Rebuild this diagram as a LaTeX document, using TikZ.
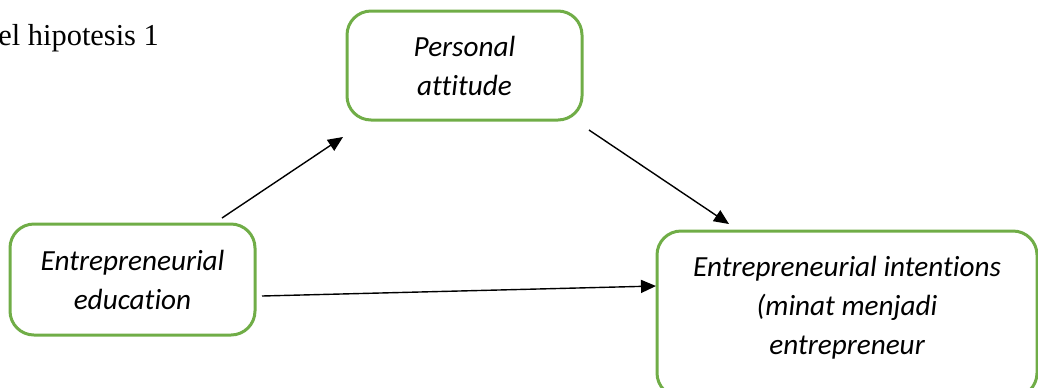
\documentclass[tikz,border=0pt]{standalone}
\usepackage{fontspec}
\setmainfont{Liberation Serif}
\newfontfamily\calibri[Ligatures=CommonOff]{Carlito}
\usetikzlibrary{arrows.meta, positioning}
\definecolor{boxgreen}{RGB}{112,173,71}
\tikzstyle{varbox} = [rectangle, rounded corners=12pt, draw=boxgreen, line width=1.5pt, align=center, font=\calibri\itshape\fontsize{14.6}{19.5}\selectfont]
\tikzstyle{arrow} = [line width=0.7pt, -{Triangle[length=7.5pt, width=6.5pt]}]

\begin{document}
\begin{tikzpicture}[x=0.5pt, y=-0.5pt]
\useasboundingbox (0,0) rectangle (1038,387);

% Title
\node (title) [anchor=base west, inner sep=0pt, font=\fontsize{15.2}{17}\selectfont] at (-2,45) {el hipotesis 1};

% Variables
\node (attitude) [varbox, minimum width=117.5pt, minimum height=54.5pt] at (464.5,65.5) {Personal\\attitude};
\node (education) [varbox, minimum width=122.5pt, minimum height=55.5pt] at (132.5,279.5) {Entrepreneurial\\education};
\node (intention) [varbox, minimum width=190pt, minimum height=83pt, text depth=9pt] at (847,314) {Entrepreneurial intentions\\(minat menjadi\\entrepreneur};

% Arrow ends
\coordinate (a1s) at (222,218);
\coordinate (a1e) at (343,137);
\coordinate (a2s) at (589,130);
\coordinate (a2e) at (729,224);
\coordinate (a3s) at (262,296);
\coordinate (a3e) at (656,286);

% Arrows
\draw [arrow] (a1s) -- (a1e);
\draw [arrow] (a2s) -- (a2e);
\draw [arrow] (a3s) -- (a3e);

\end{tikzpicture}
\end{document}
